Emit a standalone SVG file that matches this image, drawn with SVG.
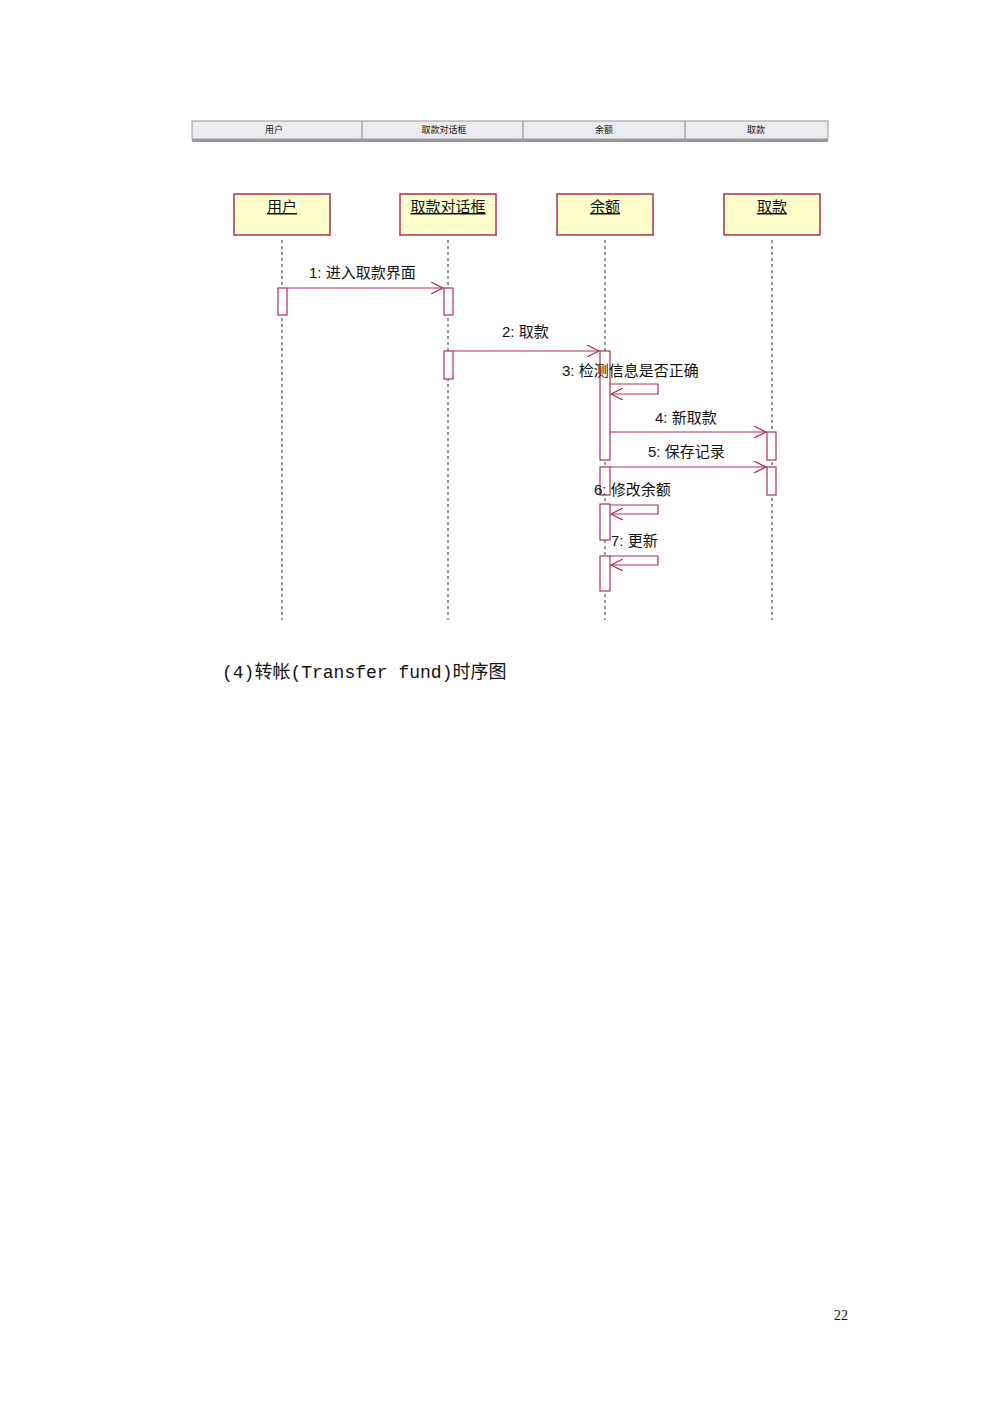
<svg xmlns="http://www.w3.org/2000/svg" width="1000" height="1415" viewBox="0 0 1000 1415">
<style>
.obj{fill:#ffffcc;stroke:#b03050;stroke-width:1.5}
.act{fill:#fff;stroke:#b03050;stroke-width:1.2}
.life{stroke:#333;stroke-width:1;stroke-dasharray:3,3}
.msg{fill:none;stroke:#b03050;stroke-width:1.2}
.t{font-family:"Liberation Sans","Noto Sans CJK SC",sans-serif;font-size:15px;fill:#111}
.h{font-family:"Liberation Sans","Noto Sans CJK SC",sans-serif;font-size:9px;fill:#111;text-anchor:middle}
</style>
<defs><marker id="a" markerWidth="14" markerHeight="12" refX="12" refY="6" orient="auto" markerUnits="userSpaceOnUse"><path d="M0,0 L12,6 L0,12" fill="none" stroke="#b03050" stroke-width="1.2"/></marker></defs>
<rect width="1000" height="1415" fill="#fff"/>
<g id="header">
<rect x="192" y="121" width="636" height="18" fill="#ececf0" stroke="#999"/>
<rect x="192" y="139" width="636" height="3" fill="#999"/>
<line x1="362" y1="121" x2="362" y2="139" stroke="#888"/><line x1="523" y1="121" x2="523" y2="139" stroke="#888"/><line x1="685" y1="121" x2="685" y2="139" stroke="#888"/>
<text class="h" x="274" y="133">用户</text><text class="h" x="444" y="133">取款对话框</text><text class="h" x="604" y="133">余额</text><text class="h" x="756" y="133">取款</text>
</g>
<g id="n1"><rect class="obj" x="234" y="194" width="96" height="41"/><text class="t" x="282" y="212" text-anchor="middle" text-decoration="underline">用户</text><line class="life" x1="282" y1="240" x2="282" y2="620"/></g>
<g id="n2"><rect class="obj" x="400" y="194" width="96" height="41"/><text class="t" x="448" y="212" text-anchor="middle" text-decoration="underline">取款对话框</text><line class="life" x1="448" y1="240" x2="448" y2="620"/></g>
<g id="n3"><rect class="obj" x="557" y="194" width="96" height="41"/><text class="t" x="605" y="212" text-anchor="middle" text-decoration="underline">余额</text><line class="life" x1="605" y1="240" x2="605" y2="620"/></g>
<g id="n4"><rect class="obj" x="724" y="194" width="96" height="41"/><text class="t" x="772" y="212" text-anchor="middle" text-decoration="underline">取款</text><line class="life" x1="772" y1="240" x2="772" y2="620"/></g>
<g id="activations">
<rect class="act" x="278" y="288" width="9" height="27"/>
<rect class="act" x="444" y="288" width="9" height="27"/>
<rect class="act" x="444" y="351" width="9" height="28"/>
<rect class="act" x="600" y="351" width="10" height="109"/>
<rect class="act" x="600" y="467" width="10" height="28"/>
<rect class="act" x="600" y="504" width="10" height="36"/>
<rect class="act" x="600" y="556" width="10" height="35"/>
<rect class="act" x="767" y="432" width="9" height="28"/>
<rect class="act" x="767" y="467" width="9" height="28"/>
</g>
<g id="connectors">
<line class="msg" x1="287" y1="288" x2="443" y2="288" marker-end="url(#a)"/>
<line class="msg" x1="453" y1="351" x2="599" y2="351" marker-end="url(#a)"/>
<polyline class="msg" points="610,384 658,384 658,394 611,394" marker-end="url(#a)"/>
<line class="msg" x1="610" y1="432" x2="766" y2="432" marker-end="url(#a)"/>
<line class="msg" x1="610" y1="467" x2="766" y2="467" marker-end="url(#a)"/>
<polyline class="msg" points="610,505 658,505 658,514 611,514" marker-end="url(#a)"/>
<polyline class="msg" points="610,556 658,556 658,565 611,565" marker-end="url(#a)"/>
</g>
<g id="labels">
<text class="t" x="309" y="278">1: 进入取款界面</text>
<text class="t" x="502" y="337">2: 取款</text>
<text class="t" x="562" y="376">3: 检测信息是否正确</text>
<text class="t" x="655" y="423">4: 新取款</text>
<text class="t" x="648" y="457">5: 保存记录</text>
<text class="t" x="594" y="495">6: 修改余额</text>
<text class="t" x="611" y="546">7: 更新</text>
</g>
<text x="222" y="678" style="font-family:'Liberation Mono','Noto Sans CJK SC',monospace;font-size:18px;fill:#111">(4)转帐(Transfer fund)时序图</text>
<text x="834" y="1320" style="font-family:'Liberation Serif',serif;font-size:14px;fill:#111">22</text>
</svg>
